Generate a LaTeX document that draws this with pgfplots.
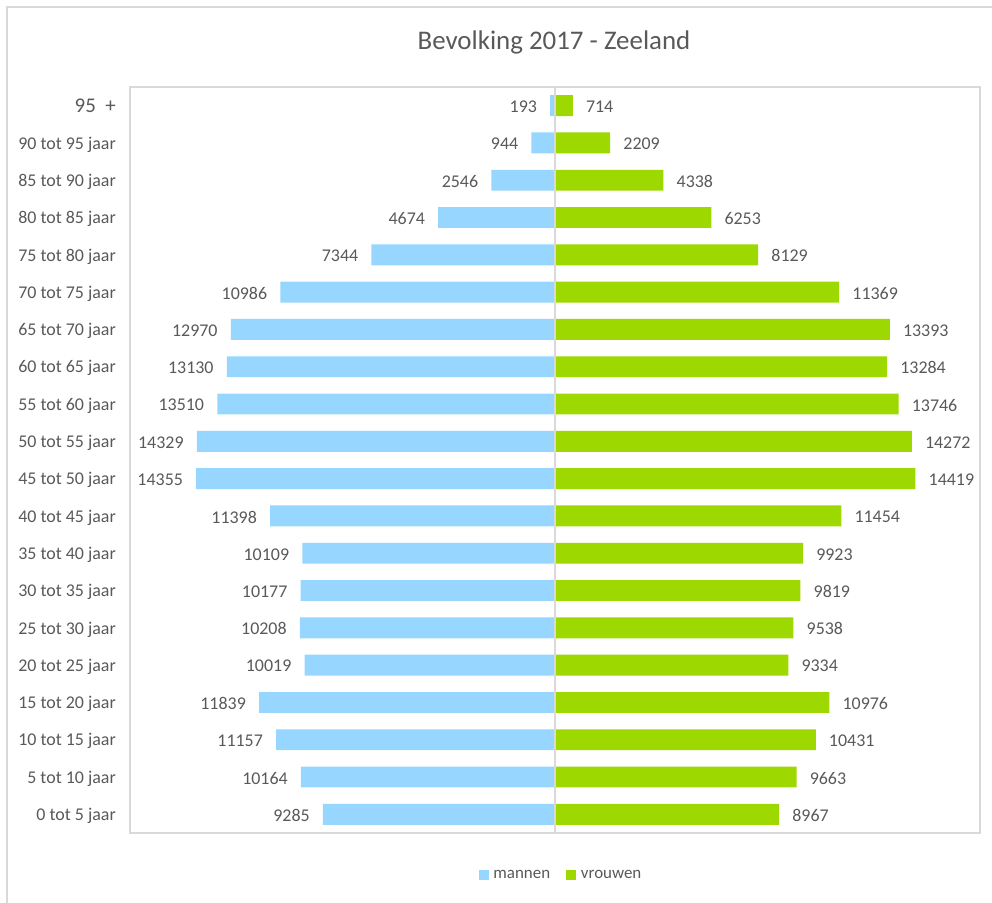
\documentclass[border=0pt]{standalone}
\usepackage{pgfplots}
\pgfplotsset{compat=1.18}
\usepackage{fontspec}
\setmainfont{Carlito}
\definecolor{mblue}{RGB}{151,215,255}
\definecolor{fgreen}{RGB}{157,216,0}
\definecolor{txt}{RGB}{89,89,89}
\definecolor{gridc}{RGB}{217,217,217}
\begin{document}
\begin{tikzpicture}[x=1bp,y=1bp]
\useasboundingbox (0,0) rectangle (992,903);
\draw[gridc, line width=1.5bp] (7,0) -- (7,896) -- (992,896);
\node[anchor=base, text=txt, font=\fontsize{27}{32}\selectfont, inner sep=0pt] at (554,853) {Bevolking 2017 - Zeeland};
\begin{axis}[
  at={(130bp,70bp)}, anchor=south west,
  scale only axis, width=850bp, height=746bp,
  xbar, bar shift=0pt, bar width=0.56,
  xmin=-17000, xmax=17000, ymin=-0.5, ymax=19.5,
  axis line style={gridc, line width=1.5bp},
  xtick=\empty,
  ytick={0,...,19},
  yticklabels={0 tot 5 jaar,5 tot 10 jaar,10 tot 15 jaar,15 tot 20 jaar,20 tot 25 jaar,25 tot 30 jaar,30 tot 35 jaar,35 tot 40 jaar,40 tot 45 jaar,45 tot 50 jaar,50 tot 55 jaar,55 tot 60 jaar,60 tot 65 jaar,65 tot 70 jaar,70 tot 75 jaar,75 tot 80 jaar,80 tot 85 jaar,85 tot 90 jaar,90 tot 95 jaar,{\fontsize{21}{24}\selectfont 95\ \ +}},
  major tick length=0pt,
  yticklabel style={inner sep=0pt, text depth=0pt, xshift=-14bp, text=txt, font=\fontsize{18}{21}\selectfont},
  point meta=explicit symbolic,
  nodes near coords={\pgfplotspointmeta},
  every node near coord/.append style={inner sep=0pt, yshift=-1bp, text=txt, font=\fontsize{18}{21}\selectfont},
  legend style={at={(0.507,-0.0566)}, anchor=center, draw=none, legend columns=2,
    font=\fontsize{17}{20}\selectfont, text=txt,
    /tikz/every even column/.append style={column sep=14bp}},
  legend image code/.code={\fill[#1] (0bp,-5bp) rectangle (10bp,5bp);},
  clip=false,
]
\addplot[fill=mblue, draw=none, nodes near coords style={anchor=east, xshift=-13bp}] coordinates {
(-9285,0) [9285]
(-10164,1) [10164]
(-11157,2) [11157]
(-11839,3) [11839]
(-10019,4) [10019]
(-10208,5) [10208]
(-10177,6) [10177]
(-10109,7) [10109]
(-11398,8) [11398]
(-14355,9) [14355]
(-14329,10) [14329]
(-13510,11) [13510]
(-13130,12) [13130]
(-12970,13) [12970]
(-10986,14) [10986]
(-7344,15) [7344]
(-4674,16) [4674]
(-2546,17) [2546]
(-944,18) [944]
(-193,19) [193]
};
\addlegendentry{\,mannen}
\addplot[fill=fgreen, draw=none, nodes near coords style={anchor=west, xshift=13bp}] coordinates {
(8967,0) [8967]
(9663,1) [9663]
(10431,2) [10431]
(10976,3) [10976]
(9334,4) [9334]
(9538,5) [9538]
(9819,6) [9819]
(9923,7) [9923]
(11454,8) [11454]
(14419,9) [14419]
(14272,10) [14272]
(13746,11) [13746]
(13284,12) [13284]
(13393,13) [13393]
(11369,14) [11369]
(8129,15) [8129]
(6253,16) [6253]
(4338,17) [4338]
(2209,18) [2209]
(714,19) [714]
};
\addlegendentry{\,vrouwen}
\draw[gridc, line width=1.5bp] (axis cs:0,-0.5) -- (axis cs:0,19.5);
\end{axis}
\end{tikzpicture}
\end{document}
